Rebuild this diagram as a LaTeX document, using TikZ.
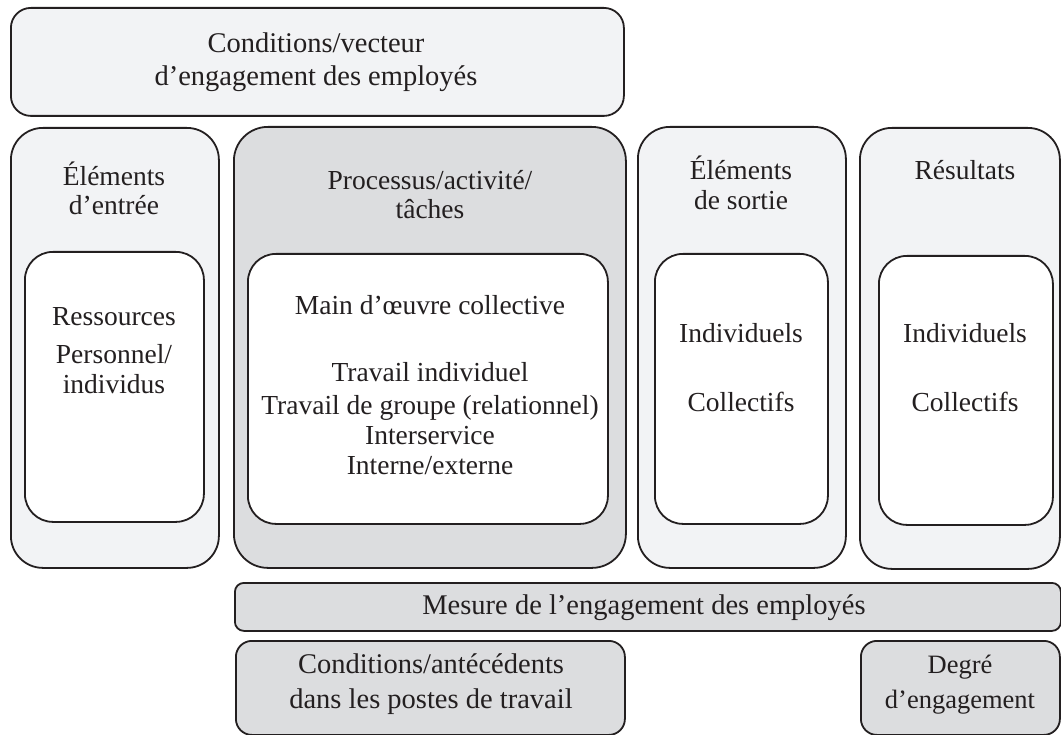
\documentclass[tikz,border=0pt]{standalone}
\usepackage{fontspec}
\setmainfont{Liberation Serif}
\definecolor{ink}{HTML}{231F20}
\definecolor{lightg}{HTML}{F2F3F5}
\definecolor{darkg}{HTML}{DCDDDF}
\tikzset{
  frame/.style={draw=ink, line width=1.8pt, inner sep=0pt, anchor=north west},
  lightbox/.style={frame, fill=lightg, rounded corners=32pt},
  darkbox/.style={frame, fill=darkg, rounded corners=34pt},
  innerbox/.style={frame, fill=white, rounded corners=28pt},
  topbox/.style={frame, fill=lightg, rounded corners=20pt},
  barbox/.style={frame, fill=darkg, rounded corners=9pt},
  lowbox/.style={frame, fill=darkg, rounded corners=16pt},
  txt/.style={inner sep=0pt, anchor=base, text=ink, font=\fontsize{27.5}{30}\selectfont},
  ctxt/.style={inner sep=0pt, anchor=base, text=ink, font=\fontsize{28.5}{32}\selectfont},
  stxt/.style={inner sep=0pt, anchor=base, text=ink, font=\fontsize{26.5}{32}\selectfont},
}
\begin{document}
\begin{tikzpicture}[x=1pt,y=-1pt]
\useasboundingbox (0,0) rectangle (1061,735);
% top box
\node[topbox, minimum width=613pt, minimum height=108pt] (top) at (10,7) {};
\node[ctxt] (topa) at (316,53) {Conditions/vecteur};
\node[ctxt] (topb) at (316,86) {d’engagement des employés};
% column 1
\node[lightbox, minimum width=208pt, minimum height=440pt] (c1) at (10,127) {};
\node[innerbox, minimum width=179pt, minimum height=270pt] (c1i) at (24,251) {};
\node[txt] (c1a) at (114,186) {Éléments};
\node[txt] (c1b) at (114,215) {d’entrée};
\node[txt] (c1c) at (114,326) {Ressources};
\node[txt] (c1d) at (114,364) {Personnel/};
\node[txt] (c1e) at (114,394) {individus};
% column 2
\node[darkbox, minimum width=392pt, minimum height=441pt] (c2) at (233,126) {};
\node[innerbox, minimum width=360pt, minimum height=270pt] (c2i) at (247,253) {};
\node[txt] (c2a) at (430,190) {Processus/activité/};
\node[txt] (c2b) at (430,219) {tâches};
\node[txt] (c2c) at (430,315) {Main d’œuvre collective};
\node[txt] (c2d) at (430,382) {Travail individuel};
\node[txt] (c2e) at (430,414) {Travail de groupe (relationnel)};
\node[txt] (c2f) at (430,445) {Interservice};
\node[txt] (c2g) at (430,475) {Interne/externe};
% column 3
\node[lightbox, minimum width=208pt, minimum height=441pt] (c3) at (637,126) {};
\node[innerbox, minimum width=173pt, minimum height=270pt] (c3i) at (654,253) {};
\node[txt] (c3a) at (741,180) {Éléments};
\node[txt] (c3b) at (741,210) {de sortie};
\node[txt] (c3c) at (741,343) {Individuels};
\node[txt] (c3d) at (741,412) {Collectifs};
% column 4
\node[lightbox, minimum width=200pt, minimum height=441pt] (c4) at (859,127) {};
\node[innerbox, minimum width=174pt, minimum height=269pt] (c4i) at (878,255) {};
\node[txt] (c4a) at (965,180) {Résultats};
\node[txt] (c4c) at (965,343) {Individuels};
\node[txt] (c4d) at (965,412) {Collectifs};
% measure bar
\node[barbox, minimum width=826pt, minimum height=48pt] (bar) at (234,582) {};
\node[ctxt] (bart) at (644,614) {Mesure de l’engagement des employés};
% lower boxes
\node[lowbox, minimum width=389pt, minimum height=94pt] (low1) at (235,640) {};
\node[ctxt] (low1a) at (431,673) {Conditions/antécédents};
\node[ctxt] (low1b) at (431,708) {dans les postes de travail};
\node[lowbox, minimum width=199pt, minimum height=94pt] (low2) at (860,640) {};
\node[stxt] (low2a) at (960,673) {Degré};
\node[stxt] (low2b) at (960,708) {d’engagement};
\end{tikzpicture}
\end{document}
